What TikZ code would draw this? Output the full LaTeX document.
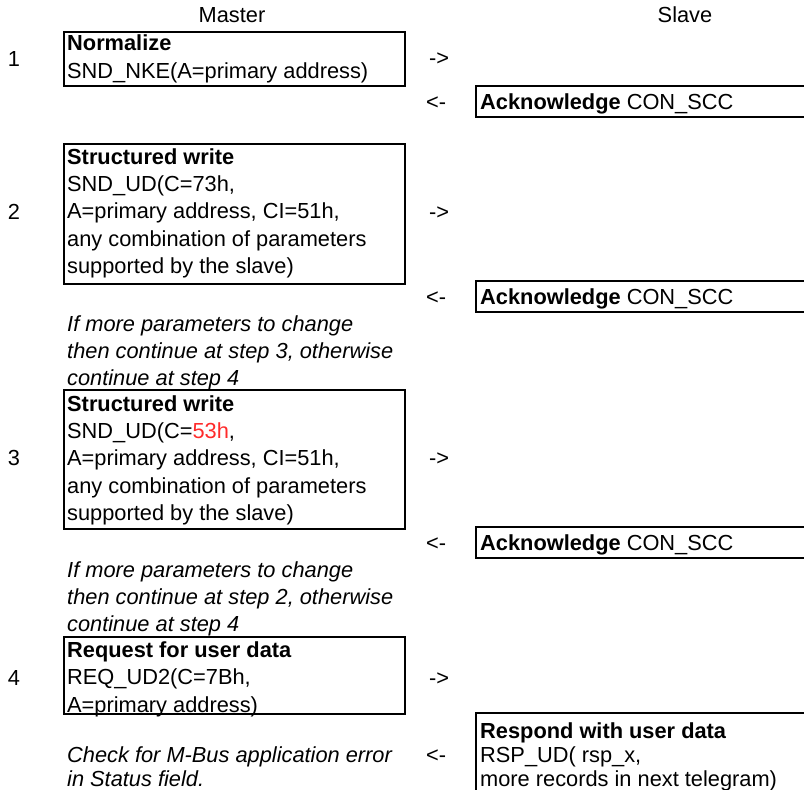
\documentclass[tikz,border=0pt]{standalone}
\usepackage{fontspec}
\setmainfont{Liberation Sans}
\usepackage{xcolor}
\definecolor{hexred}{HTML}{FF2B2B}
\tikzset{
  cell/.style={anchor=base west,inner sep=0pt,align=left,font=\fontsize{21.8}{27.4}\selectfont},
  tight/.style={cell,font=\fontsize{21.8}{24}\selectfont},
  frame/.style={draw,line width=1.6pt,anchor=north west,inner sep=0pt},
  note/.style={cell,font=\fontsize{21.8}{27.4}\selectfont\itshape},
}
\begin{document}
\begin{tikzpicture}[x=1pt,y=-1pt]
  \useasboundingbox (0,0) rectangle (804,790);
  \node[cell,anchor=base] (master) at (232,22) {Master};
  \node[cell,anchor=base] (slave) at (685,22) {Slave};
  \node[cell,anchor=base] (no1) at (14,66) {1};
  \node[cell,anchor=base] (no2) at (14,219) {2};
  \node[cell,anchor=base] (no3) at (14,465) {3};
  \node[cell,anchor=base] (no4) at (14,685) {4};
  \node[frame,minimum width=341,minimum height=54] (box1) at (63,31) {};
  \node[frame,minimum width=341,minimum height=140] (box2) at (63,143) {};
  \node[frame,minimum width=341,minimum height=139] (box3) at (63,389) {};
  \node[frame,minimum width=341,minimum height=77] (box4) at (63,636) {};
  \node[cell] (req1) at (67,78) {\textbf{Normalize}\\SND\_NKE(A=primary address)};
  \node[cell] (req2) at (67,273.6) {\textbf{Structured write}\\SND\_UD(C=73h,\\A=primary address, CI=51h,\\any combination of parameters\\supported by the slave)};
  \node[cell] (req3) at (67,520.6) {\textbf{Structured write}\\SND\_UD(C=\textcolor{hexred}{53h},\\A=primary address, CI=51h,\\any combination of parameters\\supported by the slave)};
  \node[cell] (req4) at (67,712) {\textbf{Request for user data}\\REQ\_UD2(C=7Bh,\\A=primary address)};
  \node[note] (hint2) at (67,385.8) {If more parameters to change\\then continue at step 3, otherwise\\continue at step 4};
  \node[note] (hint3) at (67,631.8) {If more parameters to change\\then continue at step 2, otherwise\\continue at step 4};
  \node[tight,font=\fontsize{21.8}{24}\selectfont\itshape] (hint4) at (67,786) {Check for M-Bus application error\\in Status field.};
  \node[cell] (to1) at (429,65) {->};
  \node[cell] (to2) at (429,219) {->};
  \node[cell] (to3) at (429,465) {->};
  \node[cell] (to4) at (429,685) {->};
  \node[cell] (back1) at (426,109) {<-};
  \node[cell] (back2) at (426,304) {<-};
  \node[cell] (back3) at (426,550) {<-};
  \node[cell] (back4) at (426,762) {<-};
  \draw[line width=1.6pt] (804,86) -- (476,86) -- (476,117) -- (804,117);
  \draw[line width=1.6pt] (804,281) -- (476,281) -- (476,312) -- (804,312);
  \draw[line width=1.6pt] (804,527) -- (476,527) -- (476,558) -- (804,558);
  \draw[line width=1.6pt] (804,713) -- (476,713) -- (476,790);
  \node[cell] (ack1) at (480,109) {\textbf{Acknowledge} CON\_SCC};
  \node[cell] (ack2) at (480,304) {\textbf{Acknowledge} CON\_SCC};
  \node[cell] (ack3) at (480,550) {\textbf{Acknowledge} CON\_SCC};
  \node[tight] (rsp) at (480,786) {\textbf{Respond with user data}\\RSP\_UD( rsp\_x,\\more records in next telegram)};
\end{tikzpicture}
\end{document}
